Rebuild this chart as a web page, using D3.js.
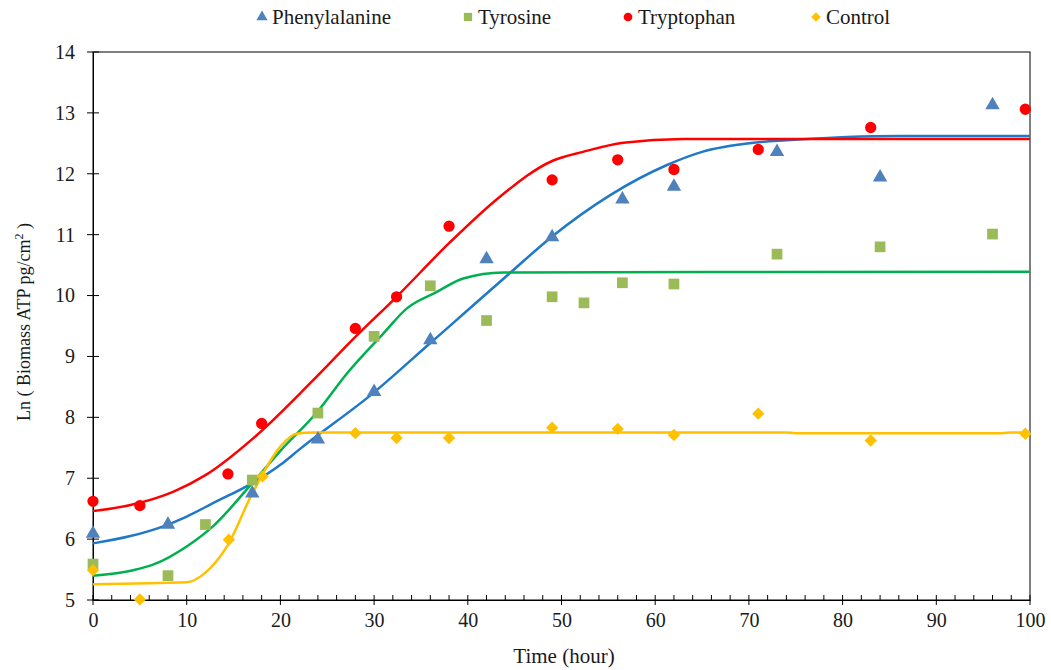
<!-- Growth curves: Ln biomass ATP vs time -->
<!DOCTYPE html>
<html>
<head>
<meta charset="utf-8">
<style>
  body { margin: 0; background: #fff; }
  svg text { font-family: "Liberation Serif", "Times New Roman", serif; fill: #1a1a1a; }
</style>
</head>
<body>
<svg width="1051" height="670"></svg>
<script src="https://d3js.org/d3.v7.min.js"></script>
<script>
// observed points [hour, ln ATP]
const pheObs = [[0,6.09],[8,6.24],[17,6.75],[24,7.64],[30,8.42],[36,9.27],[42,10.6],[49,10.96],
  [56.5,11.58],[62,11.79],[73,12.36],[84,11.94],[96,13.13]];
const tyrObs = [[0,5.59],[8,5.40],[12,6.24],[17,6.97],[24,8.07],[30,9.33],[36,10.16],[42,9.59],
  [49,9.98],[52.4,9.88],[56.5,10.21],[62,10.19],[73,10.68],[84,10.80],[96,11.01]];
const trpObs = [[0,6.62],[5,6.55],[14.4,7.07],[18,7.90],[28,9.46],[32.4,9.98],[38,11.14],[49,11.90],
  [56,12.23],[62,12.07],[71,12.40],[83,12.76],[99.5,13.06]];
const ctlObs = [[0,5.49],[5,5.01],[14.5,5.99],[18.1,7.03],[28,7.74],[32.4,7.66],[38,7.66],[49,7.83],
  [56,7.81],[62,7.71],[71,8.06],[83,7.62],[99.5,7.73]];

// fitted curves
const pheFit = [[0,5.93],[4,6.05],[7.5,6.21],[10,6.37],[12.8,6.59],[17,6.92],[20,7.22],[22,7.47],
  [30,8.41],[36,9.22],[38,9.49],[44.5,10.37],[49,10.97],[55.2,11.65],[61.2,12.14],[65,12.36],
  [70.5,12.51],[74,12.55],[86,12.62],[100,12.62]];
const tyrFit = [[0,5.40],[4.3,5.49],[6.4,5.58],[10,5.88],[12.8,6.21],[17,6.92],[20,7.45],[24,8.10],
  [27.1,8.72],[31,9.38],[33.5,9.79],[36.7,10.06],[39.5,10.28],[43.8,10.38],[100,10.39]];
const trpFit = [[0,6.46],[4,6.56],[8.6,6.78],[12,7.05],[17.5,7.71],[23.5,8.61],[28,9.32],[32.4,9.98],
  [38,10.86],[43.4,11.62],[49,12.21],[52.3,12.36],[56.6,12.51],[63,12.57],[100,12.57]];
const ctlFit = [[0,5.26],[10,5.29],[12,5.45],[14.3,5.88],[17,6.75],[20,7.52],[21.7,7.73],[23.5,7.75],
  [74,7.75],[75,7.74],[97,7.74],[98,7.75],[100,7.75]];

const seriesNames = ["Phenylalanine", "Tyrosine", "Tryptophan", "Control"];
const xTicks = [0,10,20,30,40,50,60,70,80,90,100];
const yTicks = [5,6,7,8,9,10,11,12,13,14];

const series = [
  { name: seriesNames[0], obs: pheObs, fit: pheFit, marker: "#4F81BD", line: "#1F78C8", shape: "tri" },
  { name: seriesNames[1], obs: tyrObs, fit: tyrFit, marker: "#9BBB59", line: "#00B050", shape: "sq" },
  { name: seriesNames[2], obs: trpObs, fit: trpFit, marker: "#FF0000", line: "#FF0000", shape: "cir" },
  { name: seriesNames[3], obs: ctlObs, fit: ctlFit, marker: "#FFC000", line: "#FFC000", shape: "dia" }
];

const svg = d3.select("svg");
const x = d3.scaleLinear().domain([0, 100]).range([93, 1030]);
const y = d3.scaleLinear().domain([5, 14]).range([600, 52]);

function symbolPath(shape, scale) {
  const k = scale || 1;
  if (shape === "tri") return d3.symbol(d3.symbolTriangle, 90 * k)();
  if (shape === "sq") return d3.symbol(d3.symbolSquare, 115 * k)();
  if (shape === "cir") return d3.symbol(d3.symbolCircle, 100 * k)();
  return d3.symbol(d3.symbolSquare, 76 * k)();
}

// frame
svg.append("rect").attr("x", x(0)).attr("y", y(14))
  .attr("width", x(100) - x(0)).attr("height", y(5) - y(14))
  .attr("fill", "none").attr("stroke", "#000").attr("stroke-width", 1);

// x axis
const xAxis = svg.append("g").attr("transform", `translate(0,${y(5)})`);
xAxis.call(d3.axisBottom(x).tickValues(xTicks).tickSize(0).tickPadding(13).tickFormat(d3.format("d")));
xAxis.select(".domain").attr("stroke", "#000");
xAxis.selectAll("text").attr("font-size", 20);
xAxis.selectAll(".maj").data(xTicks).enter().append("line")
  .attr("x1", d => x(d)).attr("x2", d => x(d)).attr("y1", -5).attr("y2", 5).attr("stroke", "#000");
xAxis.selectAll(".min").data(d3.range(0, 101, 2).filter(d => d % 10 !== 0)).enter().append("line")
  .attr("x1", d => x(d)).attr("x2", d => x(d)).attr("y1", -5).attr("y2", 0).attr("stroke", "#000");

// y axis
const yAxis = svg.append("g").attr("transform", `translate(${x(0)},0)`);
yAxis.call(d3.axisLeft(y).tickValues(yTicks).tickSize(0).tickPadding(18).tickFormat(d3.format("d")));
yAxis.select(".domain").attr("stroke", "#000");
yAxis.selectAll("text").attr("font-size", 20);
yAxis.selectAll(".maj").data(yTicks).enter().append("line")
  .attr("x1", -6).attr("x2", 6).attr("y1", d => y(d)).attr("y2", d => y(d)).attr("stroke", "#000");

// axis titles
svg.append("text").attr("x", 564).attr("y", 663).attr("text-anchor", "middle")
  .attr("font-size", 21).text("Time (hour)");
const yl = svg.append("text").attr("transform", "translate(30,322) rotate(-90)")
  .attr("text-anchor", "middle").attr("font-size", 18);
yl.append("tspan").text("Ln ( Biomass ATP pg/cm");
yl.append("tspan").attr("font-size", 12).attr("dy", -7).text("2");
yl.append("tspan").attr("dy", 7).text(" )");

// fitted lines
const line = d3.line().x(d => x(d[0])).y(d => y(d[1])).curve(d3.curveMonotoneX);
svg.append("g").selectAll("path").data(series).enter().append("path")
  .attr("d", d => line(d.fit)).attr("fill", "none")
  .attr("stroke", d => d.line).attr("stroke-width", 2.5);

// observed markers
series.forEach(s => {
  svg.append("g").selectAll("path").data(s.obs).enter().append("path")
    .attr("d", symbolPath(s.shape))
    .attr("transform", d => `translate(${x(d[0])},${y(d[1])})` + (s.shape === "dia" ? " rotate(45)" : ""))
    .attr("fill", s.marker);
});

// legend
const legX = [262, 468, 628, 816];
const leg = svg.append("g").selectAll("g").data(series).enter().append("g")
  .attr("transform", (d, i) => `translate(${legX[i]},17)`);
leg.append("path").attr("d", d => symbolPath(d.shape, 0.6))
  .attr("transform", d => d.shape === "dia" ? "rotate(45)" : null)
  .attr("fill", d => d.marker);
leg.append("text").attr("x", 10).attr("y", 7).attr("font-size", 21)
  .text(d => d.name);
</script>
</body>
</html>
